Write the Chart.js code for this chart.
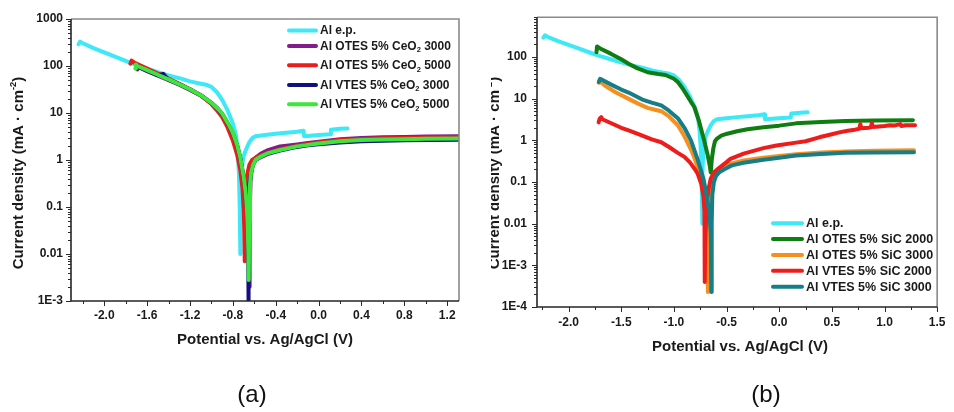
<!DOCTYPE html>
<html>
<head>
<meta charset="utf-8">
<title>Tafel polarization curves</title>
<script src="https://cdn.jsdelivr.net/npm/chart.js@4.4.1/dist/chart.umd.min.js"></script>
<style>
  body { margin: 0; background: #fff; }
  #wrap { position: relative; width: 954px; height: 412px; overflow: hidden; }
  canvas { position: absolute; top: 0; }
  #tafelA { left: 0; }
  #tafelB { left: 480px; }
</style>
</head>
<body>
<div id="wrap">
  <canvas id="tafelA" width="480" height="412"></canvas>
  <canvas id="tafelB" width="474" height="412"></canvas>
</div>
<script>
// potential (V vs Ag/AgCl) and current density (mA/cm2) for each sample

// bare electropolished Al, shown in both panels
const EP_POT = [-2.24, -2.225, -2.2, -2.1, -2.0, -1.9, -1.8, -1.7, -1.6, -1.5, -1.4, -1.3, -1.2, -1.1, -1.05, -1.0, -0.95, -0.9, -0.85, -0.8, -0.77, -0.755, -0.743, -0.736, -0.733, -0.732, -0.728, -0.72, -0.7, -0.68, -0.65, -0.62, -0.59, -0.5, -0.4, -0.3, -0.2, -0.14, -0.135, 0.0, 0.11, 0.115, 0.2, 0.27];
const EP_CUR = [290, 330, 305, 240, 195, 158, 128, 105, 88, 74, 63, 55, 47, 42, 40, 36, 28, 19, 11.5, 6, 3.3, 1.6, 0.5, 0.1, 0.03, 0.01, 0.15, 0.6, 1.2, 1.6, 2.3, 2.9, 3.2, 3.4, 3.6, 3.8, 4.0, 4.2, 3.2, 3.4, 3.55, 4.4, 4.6, 4.7];

// CeO2 coatings
const CEO_OTES3000_POT = [-1.69, -1.68, -1.65, -1.6, -1.5, -1.4, -1.3, -1.2, -1.1, -1.0, -0.95, -0.9, -0.85, -0.8, -0.76, -0.73, -0.7, -0.68, -0.665, -0.655, -0.648, -0.645, -0.642, -0.635, -0.62, -0.6, -0.58, -0.54, -0.48, -0.36, -0.2, -0.1, 0.0, 0.2, 0.4, 0.6, 0.8, 1.0, 1.31];
const CEO_OTES3000_CUR = [85, 95, 88, 78, 62, 50, 40, 31, 23.5, 16, 12.5, 9.2, 6, 3.6, 2.0, 1.05, 0.42, 0.18, 0.07, 0.02, 0.006, 0.002, 0.06, 0.35, 0.75, 1.0, 1.15, 1.35, 1.6, 1.95, 2.15, 2.3, 2.45, 2.75, 2.95, 3.05, 3.1, 3.15, 3.2];

const CEO_OTES5000_POT = [-1.755, -1.745, -1.72, -1.6, -1.5, -1.4, -1.3, -1.2, -1.1, -1.0, -0.95, -0.9, -0.85, -0.8, -0.76, -0.73, -0.71, -0.698, -0.693, -0.69, -0.688, -0.68, -0.665, -0.645, -0.62, -0.58, -0.5, -0.36, -0.2, 0.0, 0.2, 0.4, 0.6, 0.8, 1.0, 1.31];
const CEO_OTES5000_CUR = [112, 130, 118, 88, 69, 54, 42, 32, 24, 15.5, 11.5, 8.2, 5, 2.6, 1.3, 0.6, 0.25, 0.08, 0.03, 0.007, 0.05, 0.22, 0.5, 0.8, 1.0, 1.15, 1.35, 1.7, 2.0, 2.35, 2.65, 2.8, 2.9, 2.95, 3.0, 3.05];

const CEO_VTES3000_POT = [-1.7, -1.69, -1.65, -1.6, -1.5, -1.45, -1.4, -1.3, -1.2, -1.1, -1.0, -0.95, -0.9, -0.85, -0.8, -0.76, -0.73, -0.7, -0.68, -0.668, -0.66, -0.656, -0.655, -0.652, -0.645, -0.63, -0.61, -0.59, -0.55, -0.48, -0.36, -0.2, -0.1, 0.0, 0.2, 0.4, 0.6, 0.8, 1.0, 1.31];
const CEO_VTES3000_CUR = [92, 100, 90, 80, 64, 68, 51, 41, 32, 24, 16.5, 13, 9.6, 6.2, 3.7, 2.05, 1.08, 0.44, 0.2, 0.085, 0.03, 0.008, 0.001, 0.04, 0.3, 0.55, 0.8, 0.98, 1.12, 1.33, 1.58, 1.9, 2.05, 2.15, 2.35, 2.5, 2.58, 2.62, 2.65, 2.7];

const CEO_VTES5000_POT = [-1.71, -1.705, -1.69, -1.6, -1.5, -1.4, -1.3, -1.2, -1.1, -1.0, -0.95, -0.9, -0.85, -0.8, -0.76, -0.73, -0.7, -0.68, -0.668, -0.66, -0.655, -0.652, -0.648, -0.64, -0.63, -0.61, -0.59, -0.55, -0.48, -0.36, -0.2, -0.1, 0.0, 0.2, 0.4, 0.6, 0.8, 1.0, 1.31];
const CEO_VTES5000_CUR = [88, 108, 100, 82, 65, 52, 41, 32, 24, 16.5, 13, 9.8, 6.3, 3.8, 2.1, 1.1, 0.45, 0.2, 0.087, 0.03, 0.01, 0.0028, 0.05, 0.3, 0.55, 0.8, 1.0, 1.15, 1.38, 1.63, 1.95, 2.1, 2.25, 2.5, 2.65, 2.72, 2.78, 2.82, 2.88];

// SiC coatings
const SIC_OTES2000_POT = [-1.735, -1.73, -1.7, -1.6, -1.5, -1.43, -1.35, -1.25, -1.15, -1.08, -1.0, -0.963, -0.92, -0.88, -0.84, -0.806, -0.76, -0.713, -0.68, -0.66, -0.65, -0.64, -0.625, -0.61, -0.59, -0.55, -0.494, -0.4, -0.3, -0.15, 0.0, 0.16, 0.4, 0.63, 0.9, 1.27];
const SIC_OTES2000_CUR = [130, 178, 160, 120, 88, 69, 54, 43, 39, 37, 30, 25, 18, 12.5, 8.5, 6.3, 2.8, 1.0, 0.45, 0.25, 0.17, 0.35, 0.65, 0.95, 1.1, 1.3, 1.44, 1.65, 1.85, 2.07, 2.25, 2.55, 2.75, 2.9, 3.0, 3.05];

const SIC_OTES3000_POT = [-1.715, -1.71, -1.65, -1.55, -1.462, -1.35, -1.25, -1.18, -1.12, -1.05, -0.963, -0.9, -0.838, -0.8, -0.76, -0.73, -0.7, -0.685, -0.677, -0.673, -0.665, -0.65, -0.62, -0.58, -0.525, -0.45, -0.338, -0.15, 0.0, 0.16, 0.4, 0.63, 0.9, 1.28];
const SIC_OTES3000_CUR = [24, 27, 20, 14, 10.9, 7.8, 6.0, 5.4, 5.0, 3.8, 2.3, 1.25, 0.6, 0.35, 0.17, 0.08, 0.03, 0.01, 0.00023, 0.003, 0.03, 0.07, 0.12, 0.17, 0.23, 0.28, 0.33, 0.38, 0.42, 0.46, 0.51, 0.54, 0.56, 0.58];

const SIC_VTES2000_POT = [-1.715, -1.705, -1.69, -1.68, -1.6, -1.5, -1.43, -1.3, -1.21, -1.12, -1.05, -0.963, -0.9, -0.85, -0.8, -0.775, -0.74, -0.72, -0.71, -0.707, -0.703, -0.69, -0.67, -0.65, -0.62, -0.588, -0.557, -0.5, -0.463, -0.338, -0.15, -0.025, 0.16, 0.25, 0.38, 0.45, 0.5, 0.57, 0.65, 0.72, 0.76, 0.77, 0.78, 0.85, 0.87, 0.88, 0.89, 1.0, 1.05, 1.1, 1.15, 1.16, 1.2, 1.29];
const SIC_VTES2000_CUR = [2.7, 3.3, 3.6, 3.2, 2.6, 2.0, 1.73, 1.3, 1.05, 0.9, 0.7, 0.5, 0.4, 0.3, 0.2, 0.16, 0.09, 0.045, 0.02, 0.0004, 0.003, 0.03, 0.07, 0.12, 0.17, 0.2, 0.23, 0.3, 0.36, 0.48, 0.65, 0.75, 0.88, 0.95, 1.18, 1.3, 1.4, 1.55, 1.7, 1.8, 1.9, 2.45, 1.95, 2.0, 2.05, 2.6, 2.1, 2.2, 2.3, 2.28, 2.45, 2.2, 2.3, 2.3];

const SIC_VTES3000_POT = [-1.712, -1.7, -1.6, -1.5, -1.43, -1.3, -1.21, -1.12, -1.05, -0.963, -0.9, -0.838, -0.775, -0.72, -0.69, -0.665, -0.65, -0.645, -0.641, -0.635, -0.62, -0.6, -0.57, -0.525, -0.45, -0.338, -0.15, 0.0, 0.16, 0.4, 0.63, 0.9, 1.28];
const SIC_VTES3000_CUR = [25, 30, 22, 16.5, 14, 9.5, 8, 6.9, 5.2, 3.4, 2.0, 1.0, 0.35, 0.12, 0.05, 0.02, 0.006, 0.00023, 0.01, 0.05, 0.1, 0.14, 0.17, 0.2, 0.25, 0.29, 0.34, 0.38, 0.43, 0.47, 0.5, 0.51, 0.52];

const LABELS_A = ['Al e.p.', 'Al OTES 5% CeO₂ 3000', 'Al OTES 5% CeO₂ 5000', 'Al VTES 5% CeO₂ 3000', 'Al VTES 5% CeO₂ 5000'];
const LABELS_B = ['Al e.p.', 'Al OTES 5% SiC 2000', 'Al OTES 5% SiC 3000', 'Al VTES 5% SiC 2000', 'Al VTES 5% SiC 3000'];

const X_TICKS_A = [-2.0, -1.6, -1.2, -0.8, -0.4, 0.0, 0.4, 0.8, 1.2];
const X_TICKS_B = [-2.0, -1.5, -1.0, -0.5, 0.0, 0.5, 1.0, 1.5];
const Y_TICKS_A = [1e-3, 1e-2, 1e-1, 1, 10, 100, 1000];
const Y_TICK_LABELS_A = ['1E-3', '0.01', '0.1', '1', '10', '100', '1000'];
const Y_TICKS_B = [1e-4, 1e-3, 1e-2, 1e-1, 1, 10, 100];
const Y_TICK_LABELS_B = ['1E-4', '1E-3', '0.01', '0.1', '1', '10', '100'];

const X_TITLE = 'Potential vs. Ag/AgCl (V)';
const Y_TITLE = 'Current density (mA · cm⁻²)';

const FONT = '"Liberation Sans", Arial, Helvetica, sans-serif';

function toPoints(xs, ys) {
  return xs.map((x, i) => ({ x: x, y: ys[i] }));
}

function series(label, xs, ys, color, order) {
  return {
    label: label,
    data: toPoints(xs, ys),
    borderColor: color,
    backgroundColor: color,
    order: order
  };
}

// "₂" becomes a lowered small 2, "⁻²" a raised small -2
function richParts(text, size) {
  const parts = [];
  text.split(/(₂|⁻²)/).forEach(t => {
    if (t === '₂') parts.push({ t: '2', size: size * 0.62, dy: size * 0.32 });
    else if (t === '⁻²') parts.push({ t: '-2', size: size * 0.62, dy: -size * 0.36 });
    else if (t) parts.push({ t: t, size: size, dy: 0 });
  });
  return parts;
}

function drawRich(ctx, text, x, y, size, weight, align) {
  const parts = richParts(text, size);
  let total = 0;
  parts.forEach(p => {
    ctx.font = `${weight} ${p.size}px ${FONT}`;
    p.w = ctx.measureText(p.t).width;
    total += p.w;
  });
  let cx = align === 'center' ? x - total / 2 : x;
  ctx.textAlign = 'left';
  ctx.textBaseline = 'middle';
  parts.forEach(p => {
    ctx.font = `${weight} ${p.size}px ${FONT}`;
    ctx.fillText(p.t, cx, y + p.dy);
    cx += p.w;
  });
}

const axisFrame = {
  id: 'axisFrame',
  afterDraw(chart, args, o) {
    const ctx = chart.ctx;
    const area = chart.chartArea;
    const sx = chart.scales.x;
    const sy = chart.scales.y;
    ctx.save();

    // x tick marks, pointing down
    ctx.strokeStyle = '#2a2a2a';
    ctx.lineWidth = 1;
    const step = o.xMinorStep;
    for (let k = Math.ceil(sx.min / step - 1e-6); k * step <= sx.max + 1e-9; k++) {
      const v = k * step;
      const r = v / o.xMajorStep;
      const major = Math.abs(r - Math.round(r)) < 1e-6;
      const px = Math.round(sx.getPixelForValue(v)) + 0.5;
      ctx.beginPath();
      ctx.moveTo(px, area.bottom);
      ctx.lineTo(px, area.bottom + (major ? 5 : 3));
      ctx.stroke();
    }

    // y tick marks: decades plus 2..9 in between
    const e0 = Math.floor(Math.log10(sy.min));
    const e1 = Math.ceil(Math.log10(sy.max));
    for (let e = e0; e <= e1; e++) {
      for (let m = 1; m <= 9; m++) {
        const v = m * Math.pow(10, e);
        if (v < sy.min * 0.999 || v > sy.max * 1.001) continue;
        const py = Math.round(sy.getPixelForValue(v)) + 0.5;
        ctx.beginPath();
        ctx.moveTo(area.left, py);
        ctx.lineTo(area.left - (m === 1 ? 5 : 3), py);
        ctx.stroke();
      }
    }

    // plot frame
    ctx.lineWidth = 1.6;
    ctx.strokeStyle = '#8a8a8a';
    ctx.beginPath();
    ctx.moveTo(area.left, area.top);
    ctx.lineTo(area.right, area.top);
    ctx.lineTo(area.right, area.bottom);
    ctx.stroke();
    ctx.strokeStyle = '#262626';
    ctx.beginPath();
    ctx.moveTo(area.left, area.top);
    ctx.lineTo(area.left, area.bottom);
    ctx.lineTo(area.right, area.bottom);
    ctx.stroke();

    // legend
    const lg = o.legend;
    chart.data.datasets.forEach((ds, i) => {
      const y = lg.rows[i];
      ctx.strokeStyle = ds.borderColor;
      ctx.lineWidth = 4;
      ctx.lineCap = 'round';
      ctx.beginPath();
      ctx.moveTo(lg.x0, y);
      ctx.lineTo(lg.x1, y);
      ctx.stroke();
      ctx.fillStyle = '#1a1a1a';
      drawRich(ctx, ds.label, lg.tx, y + 0.5, lg.size, 'bold', 'left');
    });

    // axis titles
    ctx.fillStyle = '#1a1a1a';
    drawRich(ctx, X_TITLE, o.xTitle.x, o.xTitle.y, 15, 'bold', 'center');
    ctx.save();
    ctx.beginPath();
    ctx.rect(o.yTitle.clipLeft, 0, chart.width, chart.height);
    ctx.clip();
    ctx.translate(o.yTitle.x, o.yTitle.y);
    ctx.rotate(-Math.PI / 2);
    drawRich(ctx, Y_TITLE, 0, 0, 15, 'bold', 'center');
    ctx.restore();

    // panel caption
    ctx.fillStyle = '#111';
    ctx.font = `24px ${FONT}`;
    ctx.textAlign = 'center';
    ctx.textBaseline = 'middle';
    ctx.fillText(o.caption.text, o.caption.x, o.caption.y);

    ctx.restore();
  }
};

function tafelChart(canvasId, datasets, o) {
  const tickFont = { family: FONT, size: 12, weight: 'bold' };
  return new Chart(document.getElementById(canvasId), {
    type: 'line',
    data: { datasets: datasets },
    options: {
      responsive: false,
      animation: false,
      devicePixelRatio: 1,
      layout: { padding: { top: o.top, right: o.right, left: 0, bottom: 0 } },
      elements: {
        point: { radius: 0 },
        line: { borderWidth: 4, tension: 0, borderCapStyle: 'round', borderJoinStyle: 'round' }
      },
      plugins: {
        legend: { display: false },
        tooltip: { enabled: false },
        axisFrame: o
      },
      scales: {
        x: {
          type: 'linear',
          min: o.xMin,
          max: o.xMax,
          grid: { display: false, drawTicks: false },
          border: { display: false },
          ticks: {
            font: tickFont,
            color: '#1a1a1a',
            padding: o.xPad,
            autoSkip: false,
            maxRotation: 0,
            callback: v => v.toFixed(1)
          },
          afterBuildTicks: s => { s.ticks = o.xTicks.map(v => ({ value: v })); },
          afterFit: s => { s.height = o.xAxisHeight; }
        },
        y: {
          type: 'logarithmic',
          min: o.yMin,
          max: o.yMax,
          grid: { display: false, drawTicks: false },
          border: { display: false },
          ticks: {
            font: tickFont,
            color: '#1a1a1a',
            padding: o.yPad,
            autoSkip: false,
            callback: v => o.yLabels[o.yTicks.indexOf(v)]
          },
          afterBuildTicks: s => { s.ticks = o.yTicks.map(v => ({ value: v })); },
          afterFit: s => { s.width = o.yAxisWidth; }
        }
      }
    },
    plugins: [axisFrame]
  });
}

// (a) CeO2 coatings
tafelChart('tafelA', [
  series(LABELS_A[0], EP_POT, EP_CUR, '#3de8f7', 4),
  series(LABELS_A[1], CEO_OTES3000_POT, CEO_OTES3000_CUR, '#821c8a', 3),
  series(LABELS_A[2], CEO_OTES5000_POT, CEO_OTES5000_CUR, '#ea1d1d', 2),
  series(LABELS_A[3], CEO_VTES3000_POT, CEO_VTES3000_CUR, '#10107e', 1),
  series(LABELS_A[4], CEO_VTES5000_POT, CEO_VTES5000_CUR, '#3de63b', 0)
], {
  top: 19, right: 21, yAxisWidth: 71, xAxisHeight: 111,
  xMin: -2.31, xMax: 1.31, yMin: 1e-3, yMax: 1000,
  xTicks: X_TICKS_A, xMajorStep: 0.4, xMinorStep: 0.2,
  yTicks: Y_TICKS_A, yLabels: Y_TICK_LABELS_A,
  xPad: 7.5, yPad: 8,
  legend: { rows: [30.5, 46, 65.3, 85, 104.3], x0: 289, x1: 316, tx: 320, size: 12 },
  xTitle: { x: 265, y: 340 },
  yTitle: { x: 19, y: 173, clipLeft: 0 },
  caption: { text: '(a)', x: 252, y: 395 }
});

// (b) SiC coatings; the left edge of this panel cuts into its y title
tafelChart('tafelB', [
  series(LABELS_B[0], EP_POT, EP_CUR, '#3de8f7', 4),
  series(LABELS_B[1], SIC_OTES2000_POT, SIC_OTES2000_CUR, '#0f7d12', 3),
  series(LABELS_B[2], SIC_OTES3000_POT, SIC_OTES3000_CUR, '#f78f1f', 2),
  series(LABELS_B[3], SIC_VTES2000_POT, SIC_VTES2000_CUR, '#ef1c1c', 1),
  series(LABELS_B[4], SIC_VTES3000_POT, SIC_VTES3000_CUR, '#167e86', 0)
], {
  top: 17, right: 11, yAxisWidth: 57, xAxisHeight: 105,
  xMin: -2.3, xMax: 1.5, yMin: 1e-4, yMax: 900,
  xTicks: X_TICKS_B, xMajorStep: 0.5, xMinorStep: 0.25,
  yTicks: Y_TICKS_B, yLabels: Y_TICK_LABELS_B,
  xPad: 8.5, yPad: 10,
  legend: { rows: [223.3, 239, 255, 270.7, 286.7], x0: 293, x1: 322, tx: 326, size: 12.5 },
  xTitle: { x: 260, y: 346.5 },
  yTitle: { x: 14.5, y: 173, clipLeft: 11 },
  caption: { text: '(b)', x: 286, y: 395 }
});
</script>
</body>
</html>
